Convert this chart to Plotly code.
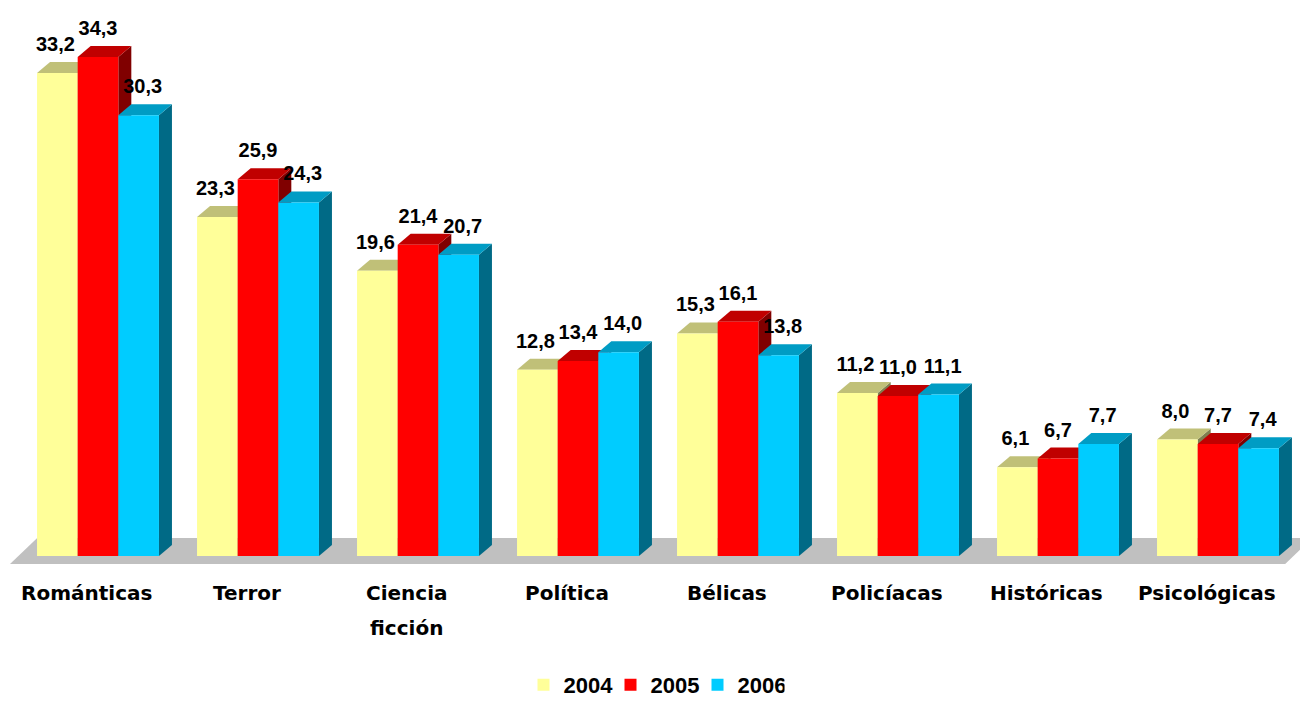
import plotly.graph_objects as go

# Data
categories = ["Románticas", "Terror", "Ciencia<br>ficción", "Política",
              "Bélicas", "Policíacas", "Históricas", "Psicológicas"]
years = ["2004", "2005", "2006"]
v2004 = [33.2, 23.3, 19.6, 12.8, 15.3, 11.2, 6.1, 8.0]
v2005 = [34.3, 25.9, 21.4, 13.4, 16.1, 11.0, 6.7, 7.7]
v2006 = [30.3, 24.3, 20.7, 14.0, 13.8, 11.1, 7.7, 7.4]
series = [v2004, v2005, v2006]

# colours: front, top, side
front = ["#FFFF99", "#FF0000", "#00CCFF"]
top = ["#C0C078", "#C00000", "#009CC4"]
side = ["#808050", "#800000", "#006A86"]

# figure sits inside the page body (8px default margin)
W, H = 1292, 693
px_x = 160.0           # pixels per category
px_y = 14.55           # pixels per unit
plot_bottom = 562      # pixel row of plot area bottom
base_px = 548          # pixel row of value 0
xmin = -90 / px_x
xmax = xmin + W / px_x
ymin = -(plot_bottom - base_px) / px_y
ymax = ymin + plot_bottom / px_y

bw = 0.254             # bar width in category units
dx = 13 / px_x         # depth offset
dy = 11 / px_y
offsets = [-bw, 0, bw]
label_shift = [-2 / px_x, 0, 4 / px_x]
label_lift = dy + 6 / px_y

fig = go.Figure()
shapes = []

# floor
fy0, fy1 = -8 / px_y, 18 / px_y
shapes.append(dict(type="path", xref="x", yref="y", layer="below",
                   path=f"M{-0.55},{fy0} L{7.42},{fy0} L{7.42 + 0.17},{fy1} L{-0.55 + 0.17},{fy1} Z",
                   fillcolor="#C0C0C0", line=dict(width=0)))

for i in range(len(categories)):
    for s, vals in enumerate(series):
        x0 = i + offsets[s] - bw / 2
        x1 = x0 + bw
        h = vals[i]
        shapes.append(dict(type="path", xref="x", yref="y", layer="below",
                           path=f"M{x1},0 L{x1 + dx},{dy} L{x1 + dx},{h + dy} L{x1},{h} Z",
                           fillcolor=side[s], line=dict(width=0)))
        shapes.append(dict(type="path", xref="x", yref="y", layer="below",
                           path=f"M{x0},{h} L{x1},{h} L{x1 + dx},{h + dy} L{x0 + dx},{h + dy} Z",
                           fillcolor=top[s], line=dict(width=0)))

for s, vals in enumerate(series):
    xs = [i + offsets[s] for i in range(len(categories))]
    fig.add_trace(go.Bar(x=xs, y=vals, width=bw, name=years[s],
                         marker=dict(color=front[s], line=dict(width=0)),
                         hoverinfo="skip"))

for s, vals in enumerate(series):
    xs = [i + offsets[s] + label_shift[s] for i in range(len(categories))]
    fig.add_trace(go.Scatter(
        x=xs, y=[v + label_lift for v in vals], mode="text",
        text=[f"{v:.1f}".replace(".", ",") for v in vals],
        textposition="top center",
        textfont=dict(family="Liberation Sans, Arial", size=20, color="black", weight="bold"),
        showlegend=False, hoverinfo="skip", cliponaxis=False))

# category labels
annotations = []
for i, cat in enumerate(categories):
    for k, line in enumerate(cat.split("<br>")):
        annotations.append(dict(x=i - 0.07, xref="x", y=0, yref="paper",
                                yanchor="top", yshift=-9 - 35 * k, text=line,
                                showarrow=False,
                                font=dict(family="DejaVu Sans", size=20, color="black", weight="bold")))

fig.update_layout(
    width=W, height=H,
    margin=dict(l=0, r=0, t=0, b=H - plot_bottom, autoexpand=False),
    paper_bgcolor="white", plot_bgcolor="white",
    barmode="overlay",
    shapes=shapes,
    annotations=annotations,
    xaxis=dict(range=[xmin, xmax], visible=False, fixedrange=True),
    yaxis=dict(range=[ymin, ymax], visible=False, fixedrange=True),
    legend=dict(orientation="h", x=0.5, xanchor="center", y=-(677 - plot_bottom) / plot_bottom,
                yanchor="middle", borderwidth=0, bgcolor="rgba(0,0,0,0)",
                font=dict(family="Liberation Sans, Arial", size=22, color="black", weight="bold"),
                itemwidth=30, entrywidth=42, entrywidthmode="pixels", traceorder="normal"),
    showlegend=True,
)

fig.write_html("out.html")
